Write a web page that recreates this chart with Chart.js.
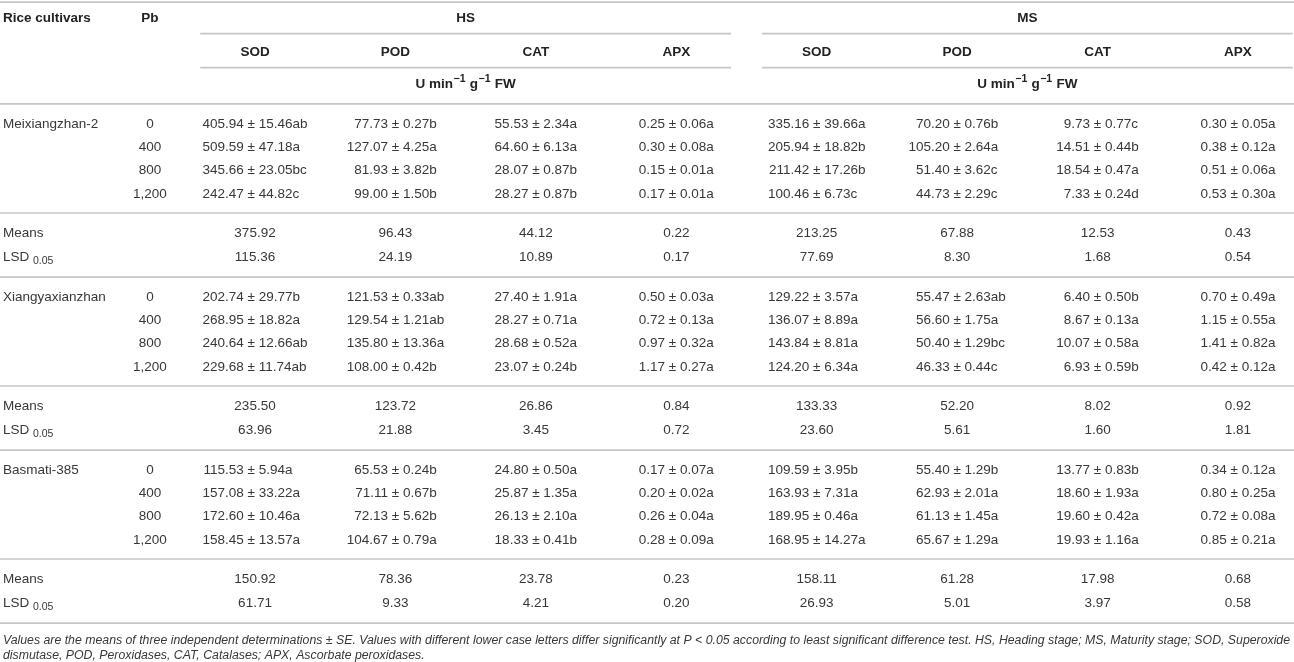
<!DOCTYPE html>
<html>
<head>
<meta charset="utf-8">
<title>Antioxidant enzymes in rice cultivars under Pb</title>
<script src="https://cdn.jsdelivr.net/npm/chart.js"></script>
<style>
  html, body { margin: 0; padding: 0; background: #fff; }
  #wrap { width: 1294px; height: 662px; position: relative; }
</style>
</head>
<body>
<div id="wrap"><canvas id="tabela"></canvas></div>
<script>
// ─── DADOS DA TABELA ───
var cultivars = ['Meixiangzhan-2', 'Xiangyaxianzhan', 'Basmati-385'];
var pbLevels = ['0', '400', '800', '1,200'];
var stages = ['HS', 'MS'];
var enzymes = ['SOD', 'POD', 'CAT', 'APX'];
var unitLabel = ['U min', '\u22121', ' g', '\u22121', ' FW'];

// cada coluna: 3 cultivares x 4 níveis de Pb (média ± SE + letra)
var hsSOD = ['405.94 ± 15.46ab', '509.59 ± 47.18a', '345.66 ± 23.05bc', '242.47 ± 44.82c',
             '202.74 ± 29.77b', '268.95 ± 18.82a', '240.64 ± 12.66ab', '229.68 ± 11.74ab',
             '115.53 ± 5.94a', '157.08 ± 33.22a', '172.60 ± 10.46a', '158.45 ± 13.57a'];
var hsPOD = ['77.73 ± 0.27b', '127.07 ± 4.25a', '81.93 ± 3.82b', '99.00 ± 1.50b',
             '121.53 ± 0.33ab', '129.54 ± 1.21ab', '135.80 ± 13.36a', '108.00 ± 0.42b',
             '65.53 ± 0.24b', '71.11 ± 0.67b', '72.13 ± 5.62b', '104.67 ± 0.79a'];
var hsCAT = ['55.53 ± 2.34a', '64.60 ± 6.13a', '28.07 ± 0.87b', '28.27 ± 0.87b',
             '27.40 ± 1.91a', '28.27 ± 0.71a', '28.68 ± 0.52a', '23.07 ± 0.24b',
             '24.80 ± 0.50a', '25.87 ± 1.35a', '26.13 ± 2.10a', '18.33 ± 0.41b'];
var hsAPX = ['0.25 ± 0.06a', '0.30 ± 0.08a', '0.15 ± 0.01a', '0.17 ± 0.01a',
             '0.50 ± 0.03a', '0.72 ± 0.13a', '0.97 ± 0.32a', '1.17 ± 0.27a',
             '0.17 ± 0.07a', '0.20 ± 0.02a', '0.26 ± 0.04a', '0.28 ± 0.09a'];
var msSOD = ['335.16 ± 39.66a', '205.94 ± 18.82b', '211.42 ± 17.26b', '100.46 ± 6.73c',
             '129.22 ± 3.57a', '136.07 ± 8.89a', '143.84 ± 8.81a', '124.20 ± 6.34a',
             '109.59 ± 3.95b', '163.93 ± 7.31a', '189.95 ± 0.46a', '168.95 ± 14.27a'];
var msPOD = ['70.20 ± 0.76b', '105.20 ± 2.64a', '51.40 ± 3.62c', '44.73 ± 2.29c',
             '55.47 ± 2.63ab', '56.60 ± 1.75a', '50.40 ± 1.29bc', '46.33 ± 0.44c',
             '55.40 ± 1.29b', '62.93 ± 2.01a', '61.13 ± 1.45a', '65.67 ± 1.29a'];
var msCAT = ['9.73 ± 0.77c', '14.51 ± 0.44b', '18.54 ± 0.47a', '7.33 ± 0.24d',
             '6.40 ± 0.50b', '8.67 ± 0.13a', '10.07 ± 0.58a', '6.93 ± 0.59b',
             '13.77 ± 0.83b', '18.60 ± 1.93a', '19.60 ± 0.42a', '19.93 ± 1.16a'];
var msAPX = ['0.30 ± 0.05a', '0.38 ± 0.12a', '0.51 ± 0.06a', '0.53 ± 0.30a',
             '0.70 ± 0.49a', '1.15 ± 0.55a', '1.41 ± 0.82a', '0.42 ± 0.12a',
             '0.34 ± 0.12a', '0.80 ± 0.25a', '0.72 ± 0.08a', '0.85 ± 0.21a'];

// médias e LSD por cultivar (HS SOD..APX, MS SOD..APX)
var meansMeixiang = ['375.92', '96.43', '44.12', '0.22', '213.25', '67.88', '12.53', '0.43'];
var lsdMeixiang   = ['115.36', '24.19', '10.89', '0.17', '77.69', '8.30', '1.68', '0.54'];
var meansXiangya  = ['235.50', '123.72', '26.86', '0.84', '133.33', '52.20', '8.02', '0.92'];
var lsdXiangya    = ['63.96', '21.88', '3.45', '0.72', '23.60', '5.61', '1.60', '1.81'];
var meansBasmati  = ['150.92', '78.36', '23.78', '0.23', '158.11', '61.28', '17.98', '0.68'];
var lsdBasmati    = ['61.71', '9.33', '4.21', '0.20', '26.93', '5.01', '3.97', '0.58'];

var footnote = [
  'Values are the means of three independent determinations ± SE. Values with different lower case letters differ significantly at P < 0.05 according to least significant difference test. HS, Heading stage; MS, Maturity stage; SOD, Superoxide',
  'dismutase, POD, Peroxidases, CAT, Catalases; APX, Ascorbate peroxidases.'
];

// ─── LAYOUT (x em colunas de dados, y em alturas de linha) ───
var columns = [hsSOD, hsPOD, hsCAT, hsAPX, msSOD, msPOD, msCAT, msAPX];
var meansAll = [meansMeixiang, meansXiangya, meansBasmati];
var lsdAll = [lsdMeixiang, lsdXiangya, lsdBasmati];

var X_MIN = -1.816, X_MAX = 7.399;
var X_LEFT = -1.795, X_PB = -0.748, X_FOOT_END = 7.37;
var STAGE_SPAN = 1.89;              // meia largura da régua de cada estágio
var Y_MAX = 28.41;
var Y_TOP_RULE = 0.09, Y_HEAD1 = 0.77, Y_STAGE_RULE = 1.44, Y_HEAD2 = 2.23,
    Y_ENZ_RULE = 2.9, Y_UNIT = 3.6, Y_HEAD_RULE = 4.46;
var GROUP_PITCH = 7.425, FIRST_ROW = 5.32, RULE_AFTER = 3.82, MEANS_AFTER = 4.68,
    LSD_AFTER = 5.71, RULE2_AFTER = 6.57;
var Y_FOOT = [27.48, 28.12];

var TXT = '#383838', HEAD = '#222222', RULE = '#c6c6c6';
var FAM = '"Liberation Sans", Arial, Helvetica, sans-serif';

function regua(x0, x1, y) {
  return {
    data: [{ x: x0, y: y }, { x: x1, y: y }],
    showLine: true, borderColor: RULE, borderWidth: 1.7,
    pointRadius: 0, pointHoverRadius: 0, fill: false
  };
}

var reguas = [regua(X_MIN, X_MAX, Y_TOP_RULE), regua(X_MIN, X_MAX, Y_HEAD_RULE)];
stages.forEach(function(s, i) {
  var c = 1.5 + 4 * i;
  reguas.push(regua(c - STAGE_SPAN, c + STAGE_SPAN, Y_STAGE_RULE));
  reguas.push(regua(c - STAGE_SPAN, c + STAGE_SPAN, Y_ENZ_RULE));
});
cultivars.forEach(function(c, g) {
  var base = FIRST_ROW + g * GROUP_PITCH;
  reguas.push(regua(X_MIN, X_MAX, base + RULE_AFTER));
  reguas.push(regua(X_MIN, X_MAX, base + RULE2_AFTER));
});

function setFont(ctx, size, weight, style) {
  ctx.font = (style || 'normal') + ' ' + (weight || 'normal') + ' ' + size + 'px ' + FAM;
}

var textoTabela = {
  id: 'textoTabela',
  afterDatasetsDraw: function(chart) {
    var ctx = chart.ctx, xs = chart.scales.x, ys = chart.scales.y;
    var px = function(v) { return xs.getPixelForValue(v); };
    var py = function(v) { return ys.getPixelForValue(v); };
    ctx.save();
    ctx.textBaseline = 'middle';

    // cabeçalho
    setFont(ctx, 13.5, 'bold');
    ctx.fillStyle = HEAD;
    ctx.textAlign = 'left';
    ctx.fillText('Rice cultivars', px(X_LEFT), py(Y_HEAD1));
    ctx.textAlign = 'center';
    ctx.fillText('Pb', px(X_PB), py(Y_HEAD1));
    stages.forEach(function(s, i) {
      var c = 1.5 + 4 * i;
      setFont(ctx, 13.5, 'bold');
      ctx.textAlign = 'center';
      ctx.fillText(s, px(c), py(Y_HEAD1));
      enzymes.forEach(function(e, j) { ctx.fillText(e, px(4 * i + j), py(Y_HEAD2)); });
      // unidade com sobrescritos
      var partes = unitLabel.map(function(t, k) { return { t: t, sup: k % 2 === 1 }; });
      var larg = 0;
      partes.forEach(function(p) {
        setFont(ctx, p.sup ? 10.5 : 13.5, 'bold');
        p.w = ctx.measureText(p.t).width + (p.sup ? 1 : 0); larg += p.w;
      });
      var x = px(c) - larg / 2, y = py(Y_UNIT);
      ctx.textAlign = 'left';
      partes.forEach(function(p) {
        setFont(ctx, p.sup ? 10.5 : 13.5, 'bold');
        ctx.fillText(p.t, x + (p.sup ? 0.5 : 0), p.sup ? y - 4.5 : y);
        x += p.w;
      });
    });

    // corpo
    ctx.fillStyle = TXT;
    setFont(ctx, 13.5);
    var alinh = columns.map(function(col) {
      var mL = 0, mR = 0;
      col.forEach(function(s) {
        var i = s.indexOf('±');
        mL = Math.max(mL, ctx.measureText(s.slice(0, i)).width);
        mR = Math.max(mR, ctx.measureText(s.slice(i)).width);
      });
      return { mL: mL, mR: mR };
    });

    cultivars.forEach(function(nome, g) {
      var base = FIRST_ROW + g * GROUP_PITCH;
      setFont(ctx, 13.5);
      ctx.textAlign = 'left';
      ctx.fillText(nome, px(X_LEFT), py(base));
      pbLevels.forEach(function(pb, k) {
        var y = py(base + k);
        ctx.textAlign = 'center';
        ctx.fillText(pb, px(X_PB), y);
        columns.forEach(function(col, j) {
          var s = col[g * 4 + k], i = s.indexOf('±');
          var a = alinh[j];
          var pm = px(j) - (a.mL + a.mR) / 2 + a.mL;
          ctx.textAlign = 'right';
          ctx.fillText(s.slice(0, i), pm, y);
          ctx.textAlign = 'left';
          ctx.fillText(s.slice(i), pm, y);
        });
      });
      var yM = py(base + MEANS_AFTER), yL = py(base + LSD_AFTER);
      ctx.textAlign = 'left';
      ctx.fillText('Means', px(X_LEFT), yM);
      ctx.fillText('LSD', px(X_LEFT), yL);
      var wl = ctx.measureText('LSD ').width;
      setFont(ctx, 10.5);
      ctx.fillText('0.05', px(X_LEFT) + wl, yL + 4);
      setFont(ctx, 13.5);
      ctx.textAlign = 'center';
      meansAll[g].forEach(function(v, j) { ctx.fillText(v, px(j), yM); });
      lsdAll[g].forEach(function(v, j) { ctx.fillText(v, px(j), yL); });
    });

    // nota de rodapé: ajusta o tamanho para a primeira linha caber na largura
    setFont(ctx, 12.6, 'normal', 'italic');
    var alvo = px(X_FOOT_END) - px(X_LEFT);
    var tam = 12.6 * alvo / ctx.measureText(footnote[0]).width;
    setFont(ctx, tam, 'normal', 'italic');
    ctx.textAlign = 'left';
    footnote.forEach(function(l, i) { ctx.fillText(l, px(X_LEFT), py(Y_FOOT[i])); });
    ctx.restore();
  }
};

new Chart(document.getElementById('tabela'), {
  type: 'scatter',
  data: { datasets: reguas },
  options: {
    responsive: true,
    maintainAspectRatio: false,
    animation: false,
    layout: { padding: 0 },
    plugins: { legend: { display: false }, tooltip: { enabled: false } },
    scales: {
      x: { type: 'linear', min: X_MIN, max: X_MAX, display: false },
      y: { type: 'linear', min: 0, max: Y_MAX, reverse: true, display: false }
    }
  },
  plugins: [textoTabela]
});
</script>
</body>
</html>
